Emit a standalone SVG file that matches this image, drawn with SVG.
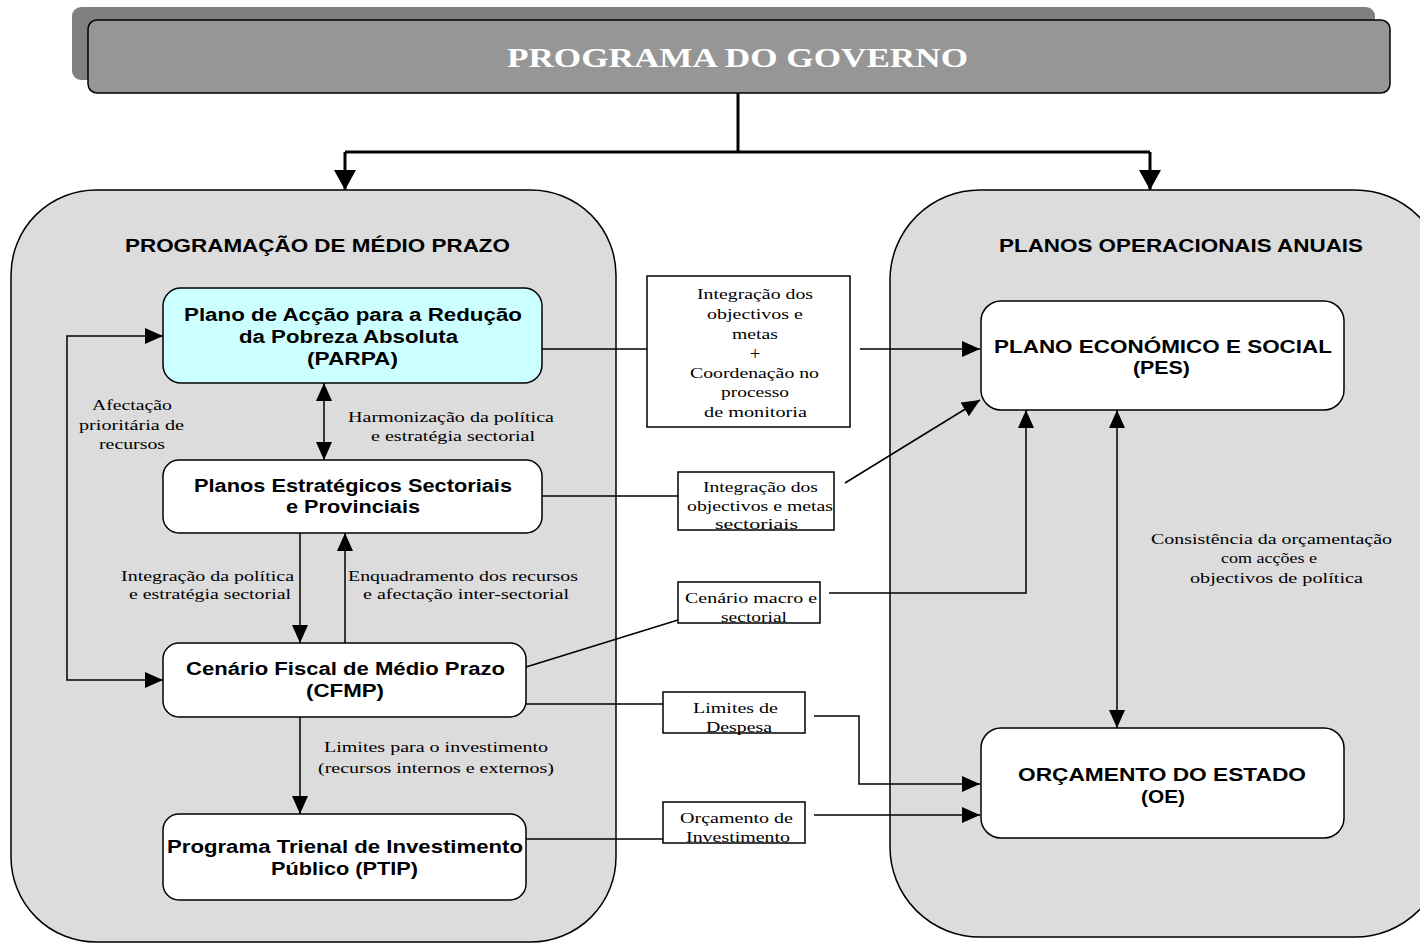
<svg xmlns="http://www.w3.org/2000/svg" width="1420" height="946" viewBox="0 0 1420 946">
<defs>
<marker id="ah" markerUnits="userSpaceOnUse" markerWidth="18" markerHeight="16" refX="18" refY="8" orient="auto-start-reverse" viewBox="0 0 18 16"><path d="M0,0 L18,8 L0,16 z" fill="#000"/></marker>
<marker id="ahb" markerUnits="userSpaceOnUse" markerWidth="20" markerHeight="22" refX="20" refY="11" orient="auto" viewBox="0 0 20 22"><path d="M0,0 L20,11 L0,22 z" fill="#000"/></marker>
</defs>
<style>
.cont{fill:#dcdcdc;stroke:#000;stroke-width:1.5}
.node{fill:#fff;stroke:#000;stroke-width:1.5}
.lbl{fill:#fff;stroke:#000;stroke-width:1.5}
.hdr{font-family:"Liberation Sans",Arial,sans-serif;font-weight:bold;font-size:18px;fill:#000}
.nt{font-family:"Liberation Sans",Arial,sans-serif;font-weight:bold;font-size:18px;fill:#000}
.st{font-family:"Liberation Serif","Times New Roman",serif;font-size:15px;fill:#000}
.plus{font-size:19px}
.con{fill:none;stroke:#000;stroke-width:1.5}
.conb{fill:none;stroke:#000;stroke-width:3}
</style>
<rect width="1420" height="946" fill="#fff"/>

<g id="banner">
<rect x="72" y="7" width="1303" height="73" rx="9" fill="#808080"/>
<rect x="88" y="20" width="1302" height="73" rx="9" fill="#969696" stroke="#000" stroke-width="1.5"/>
<text x="507" y="67" font-family="'Liberation Serif','Times New Roman',serif" font-weight="bold" font-size="28" fill="#fff" textLength="461" lengthAdjust="spacingAndGlyphs">PROGRAMA DO GOVERNO</text>
</g>

<g id="container-medio-prazo">
<rect class="cont" x="11" y="190" width="605" height="752" rx="85"/>
<text class="hdr" x="125" y="252" textLength="385" lengthAdjust="spacingAndGlyphs">PROGRAMAÇÃO DE MÉDIO PRAZO</text>
</g>

<g id="container-anuais">
<rect class="cont" x="890" y="190" width="555" height="747" rx="90"/>
<text class="hdr" x="999" y="252" textLength="364" lengthAdjust="spacingAndGlyphs">PLANOS OPERACIONAIS ANUAIS</text>
</g>

<g id="connectors">
<path class="conb" d="M738,93 V152 M345,152 H1150"/>
<path class="conb" d="M345,152 V190" marker-end="url(#ahb)"/>
<path class="conb" d="M1150,152 V190" marker-end="url(#ahb)"/>
<path class="con" d="M163,336 H67 V680 H163" marker-start="url(#ah)" marker-end="url(#ah)"/>
<path class="con" d="M324,383 V460" marker-start="url(#ah)" marker-end="url(#ah)"/>
<path class="con" d="M300,533 V643" marker-end="url(#ah)"/>
<path class="con" d="M345,643 V533" marker-end="url(#ah)"/>
<path class="con" d="M300,717 V814" marker-end="url(#ah)"/>
<path class="con" d="M542,349 H647"/>
<path class="con" d="M860,349 H980" marker-end="url(#ah)"/>
<path class="con" d="M542,496 H678"/>
<path class="con" d="M845,483 L980,400" marker-end="url(#ah)"/>
<path class="con" d="M526,667 L678,620"/>
<path class="con" d="M829,593 H1026 V410" marker-end="url(#ah)"/>
<path class="con" d="M526,704 H663"/>
<path class="con" d="M814,716 H859 V784 H980" marker-end="url(#ah)"/>
<path class="con" d="M526,839 H663"/>
<path class="con" d="M814,815 H980" marker-end="url(#ah)"/>
<path class="con" d="M1117,410 V728" marker-start="url(#ah)" marker-end="url(#ah)"/>
<text class="st" x="92" y="410" textLength="80" lengthAdjust="spacingAndGlyphs">Afectação</text>
<text class="st" x="79" y="430" textLength="105" lengthAdjust="spacingAndGlyphs">prioritária de</text>
<text class="st" x="99" y="449" textLength="66" lengthAdjust="spacingAndGlyphs">recursos</text>
<text class="st" x="348" y="422" textLength="206" lengthAdjust="spacingAndGlyphs">Harmonização da política</text>
<text class="st" x="371" y="441" textLength="164" lengthAdjust="spacingAndGlyphs">e estratégia sectorial</text>
<text class="st" x="121" y="581" textLength="173" lengthAdjust="spacingAndGlyphs">Integração da política</text>
<text class="st" x="129" y="599" textLength="162" lengthAdjust="spacingAndGlyphs">e estratégia sectorial</text>
<text class="st" x="348" y="581" textLength="230" lengthAdjust="spacingAndGlyphs">Enquadramento dos recursos</text>
<text class="st" x="363" y="599" textLength="206" lengthAdjust="spacingAndGlyphs">e afectação inter-sectorial</text>
<text class="st" x="324" y="752" textLength="224" lengthAdjust="spacingAndGlyphs">Limites para o investimento</text>
<text class="st" x="318" y="773" textLength="236" lengthAdjust="spacingAndGlyphs">(recursos internos e externos)</text>
<text class="st" x="1151" y="544" textLength="241" lengthAdjust="spacingAndGlyphs">Consistência da orçamentação</text>
<text class="st" x="1221" y="563" textLength="96" lengthAdjust="spacingAndGlyphs">com acções e</text>
<text class="st" x="1190" y="583" textLength="173" lengthAdjust="spacingAndGlyphs">objectivos de política</text>
</g>

<g id="node-parpa">
<rect x="163" y="288" width="379" height="95" rx="18" fill="#ccffff" stroke="#000" stroke-width="1.5"/>
<text class="nt" x="184" y="321" textLength="338" lengthAdjust="spacingAndGlyphs">Plano de Acção para a Redução</text>
<text class="nt" x="239" y="343" textLength="219" lengthAdjust="spacingAndGlyphs">da Pobreza Absoluta</text>
<text class="nt" x="307" y="365" textLength="91" lengthAdjust="spacingAndGlyphs">(PARPA)</text>
</g>

<g id="node-planos">
<rect class="node" x="163" y="460" width="379" height="73" rx="16"/>
<text class="nt" x="194" y="492" textLength="318" lengthAdjust="spacingAndGlyphs">Planos Estratégicos Sectoriais</text>
<text class="nt" x="286" y="513" textLength="134" lengthAdjust="spacingAndGlyphs">e Provinciais</text>
</g>

<g id="node-cfmp">
<rect class="node" x="163" y="643" width="363" height="74" rx="16"/>
<text class="nt" x="186" y="675" textLength="319" lengthAdjust="spacingAndGlyphs">Cenário Fiscal de Médio Prazo</text>
<text class="nt" x="306" y="697" textLength="78" lengthAdjust="spacingAndGlyphs">(CFMP)</text>
</g>

<g id="node-ptip">
<rect class="node" x="163" y="814" width="363" height="86" rx="16"/>
<text class="nt" x="167" y="853" textLength="356" lengthAdjust="spacingAndGlyphs">Programa Trienal de Investimento</text>
<text class="nt" x="271" y="875" textLength="147" lengthAdjust="spacingAndGlyphs">Público (PTIP)</text>
</g>

<g id="node-pes">
<rect class="node" x="981" y="301" width="363" height="109" rx="20"/>
<text class="nt" x="994" y="353" textLength="338" lengthAdjust="spacingAndGlyphs">PLANO ECONÓMICO E SOCIAL</text>
<text class="nt" x="1133" y="374" textLength="57" lengthAdjust="spacingAndGlyphs">(PES)</text>
</g>

<g id="node-oe">
<rect class="node" x="981" y="728" width="363" height="110" rx="20"/>
<text class="nt" x="1018" y="781" textLength="288" lengthAdjust="spacingAndGlyphs">ORÇAMENTO DO ESTADO</text>
<text class="nt" x="1141" y="803" textLength="44" lengthAdjust="spacingAndGlyphs">(OE)</text>
</g>

<g id="label-integracao-metas">
<rect class="lbl" x="647" y="276" width="203" height="151"/>
<text class="st" x="697" y="299" textLength="116" lengthAdjust="spacingAndGlyphs">Integração dos</text>
<text class="st" x="707" y="319" textLength="96" lengthAdjust="spacingAndGlyphs">objectivos e</text>
<text class="st" x="732" y="339" textLength="46" lengthAdjust="spacingAndGlyphs">metas</text>
<text class="st plus" x="755" y="360" text-anchor="middle">+</text>
<text class="st" x="690" y="378" textLength="129" lengthAdjust="spacingAndGlyphs">Coordenação no</text>
<text class="st" x="721" y="397" textLength="68" lengthAdjust="spacingAndGlyphs">processo</text>
<text class="st" x="704" y="417" textLength="103" lengthAdjust="spacingAndGlyphs">de monitoria</text>
</g>

<g id="label-integracao-sectoriais">
<rect class="lbl" x="678" y="472" width="156" height="58"/>
<text class="st" x="703" y="492" textLength="115" lengthAdjust="spacingAndGlyphs">Integração dos</text>
<text class="st" x="687" y="511" textLength="146" lengthAdjust="spacingAndGlyphs">objectivos e metas</text>
<text class="st" x="715" y="529" textLength="83" lengthAdjust="spacingAndGlyphs">sectoriais</text>
</g>

<g id="label-cenario-macro">
<rect class="lbl" x="678" y="582" width="142" height="41"/>
<text class="st" x="685" y="603" textLength="132" lengthAdjust="spacingAndGlyphs">Cenário macro e</text>
<text class="st" x="721" y="622" textLength="66" lengthAdjust="spacingAndGlyphs">sectorial</text>
</g>

<g id="label-limites-despesa">
<rect class="lbl" x="663" y="692" width="142" height="41"/>
<text class="st" x="693" y="713" textLength="85" lengthAdjust="spacingAndGlyphs">Limites de</text>
<text class="st" x="706" y="732" textLength="66" lengthAdjust="spacingAndGlyphs">Despesa</text>
</g>

<g id="label-orcamento-investimento">
<rect class="lbl" x="663" y="802" width="142" height="41"/>
<text class="st" x="680" y="823" textLength="113" lengthAdjust="spacingAndGlyphs">Orçamento de</text>
<text class="st" x="686" y="842" textLength="104" lengthAdjust="spacingAndGlyphs">Investimento</text>
</g>
</svg>
